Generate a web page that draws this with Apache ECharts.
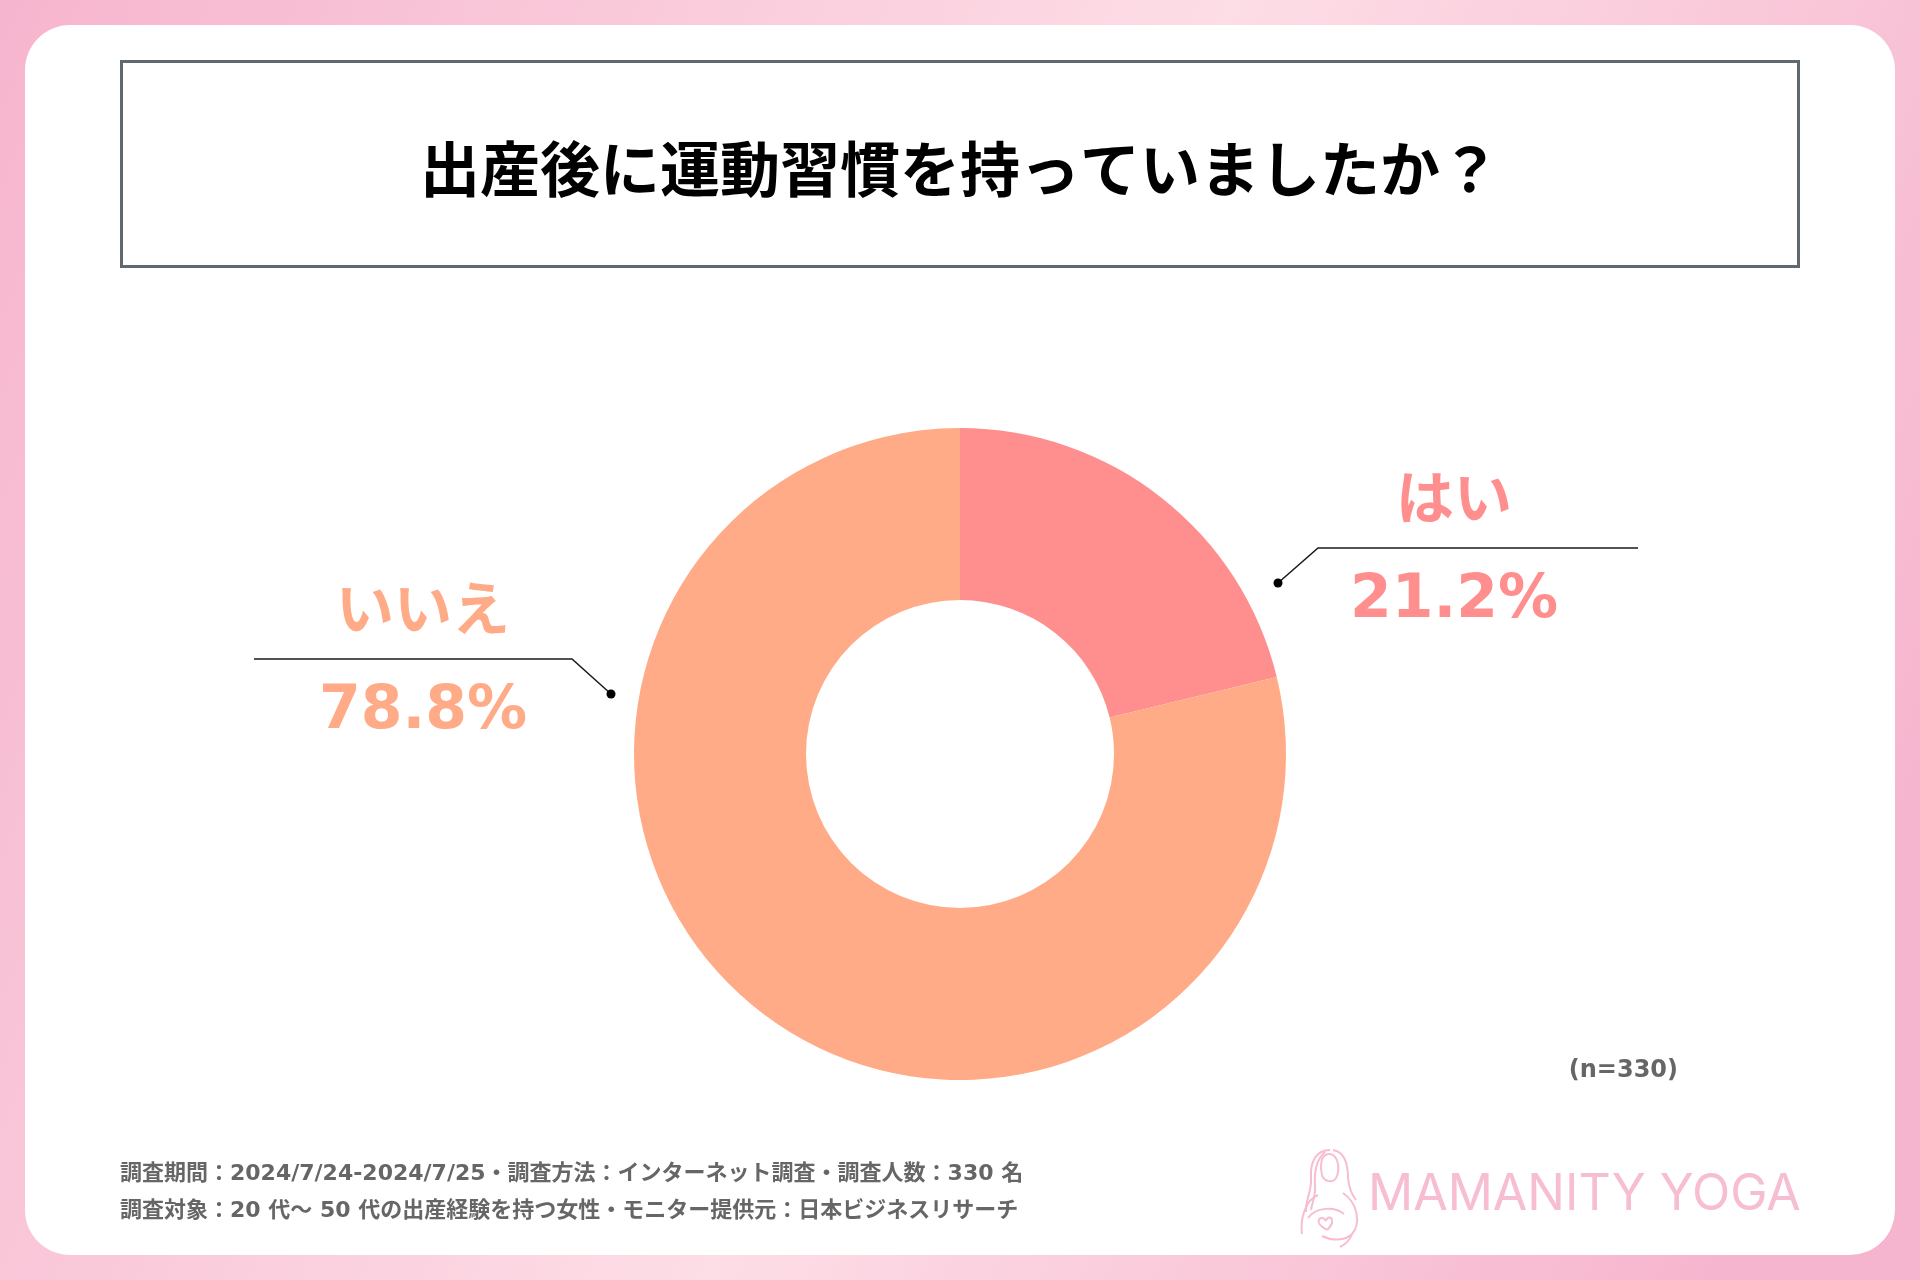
<!DOCTYPE html>
<html>
<head>
<meta charset="utf-8">
<script src="https://cdn.jsdelivr.net/npm/echarts@6/dist/echarts.min.js"></script>
<style>
html,body{margin:0;padding:0;width:1920px;height:1280px;overflow:hidden;}
#chart{width:1920px;height:1280px;}
</style>
</head>
<body>
<div id="chart"></div>
<script>
// ---- data ----
const titleText = '出産後に運動習慣を持っていましたか？';
const categories = ['はい', 'いいえ'];
const values = [21.2, 78.8];
const sampleNote = '(n=330)';
const footerLines = [
  '調査期間：2024/7/24-2024/7/25・調査方法：インターネット調査・調査人数：330 名',
  '調査対象：20 代～ 50 代の出産経験を持つ女性・モニター提供元：日本ビジネスリサーチ'
];
const brandName = 'MAMANITY YOGA';

// ---- styles / layout ----
const sliceColors = ['#FF8F8F', '#FFAB88'];
const CX = 960, CY = 754;
// label anchor offsets relative to pie centre: dot, elbow, line end, text centre x
const labelGeom = [
  { dot: [318, -171], elbow: [358, -206], end: [678, -206], tx: 494 },
  { dot: [-349, -60], elbow: [-388, -95], end: [-706, -95], tx: -537 }
];

const chart = echarts.init(document.getElementById('chart'), null, { renderer: 'canvas' });

const pieData = categories.map((c, i) => ({
  name: c, value: values[i],
  itemStyle: { color: sliceColors[i] },
  label: { rich: { n: { color: sliceColors[i] }, v: { color: sliceColors[i] } } }
}));

const dots = labelGeom.map(g => ({
  type: 'circle', shape: { cx: CX + g.dot[0], cy: CY + g.dot[1], r: 4.5 },
  style: { fill: '#000' }, z: 100
}));

// decorative logo figure (cubic curves: x1,y1, c1x,c1y, c2x,c2y, x2,y2)
const logoCurves = [
  [1330,1150, 1316,1150, 1310,1162, 1311,1178],
  [1311,1178, 1312,1192, 1305,1200, 1306,1212],
  [1333,1150, 1345,1152, 1348,1165, 1348,1178],
  [1348,1178, 1349,1188, 1352,1195, 1356,1200],
  [1325,1152, 1318,1158, 1314,1170, 1315,1185],
  [1315,1185, 1316,1195, 1312,1203, 1311,1210],
  [1329,1154, 1320,1154, 1320,1168, 1322,1175],
  [1322,1175, 1324,1182, 1334,1184, 1337,1176],
  [1337,1176, 1340,1168, 1338,1154, 1329,1154],
  [1318,1195, 1305,1200, 1300,1220, 1302,1234],
  [1343,1193, 1358,1203, 1361,1224, 1352,1234],
  [1352,1234, 1345,1241, 1332,1241, 1322,1236],
  [1308,1218, 1316,1207, 1334,1206, 1344,1214],
  [1326,1221, 1323,1216, 1317,1218, 1319,1223],
  [1319,1223, 1320,1226, 1324,1228, 1327,1230],
  [1327,1230, 1330,1227, 1333,1224, 1332,1220],
  [1332,1220, 1331,1216, 1327,1217, 1326,1221],
  [1352,1234, 1350,1240, 1346,1244, 1340,1247]
];
const logoShapes = logoCurves.map(c => ({
  type: 'bezierCurve',
  shape: { x1: c[0], y1: c[1], cpx1: c[2], cpy1: c[3], cpx2: c[4], cpy2: c[5], x2: c[6], y2: c[7] },
  style: { stroke: '#F7BDD3', lineWidth: 2, fill: null }, z: 50, silent: true
}));

const option = {
  backgroundColor: {
    type: 'linear', x: 0, y: 0, x2: 1, y2: 0.62,
    colorStops: [
      { offset: 0, color: '#F6B5CE' },
      { offset: 0.55, color: '#FDDDE6' },
      { offset: 1, color: '#F6B5CE' }
    ]
  },
  graphic: [
    { type: 'rect', shape: { x: 25, y: 25, width: 1870, height: 1230, r: 45 }, style: { fill: '#FFFFFF' }, z: -10, silent: true },
    { type: 'rect', shape: { x: 121.5, y: 61.5, width: 1677, height: 205 }, style: { fill: null, stroke: '#5F696F', lineWidth: 3 }, z: 1 },
    { type: 'text', x: 960, y: 169, style: { text: titleText, fill: '#000', font: 'bold 60px "Noto Sans CJK JP"', align: 'center', verticalAlign: 'middle' }, z: 2 },
    { type: 'text', x: 1678, y: 1071, style: { text: sampleNote, fill: '#666666', font: 'bold 24px "DejaVu Sans"', align: 'right', verticalAlign: 'middle' }, z: 2 },
    { type: 'text', x: 120, y: 1174, style: { text: footerLines[0], fill: '#666666', font: 'bold 22px "DejaVu Sans", "Noto Sans CJK JP"', align: 'left', verticalAlign: 'middle' }, z: 2 },
    { type: 'text', x: 120, y: 1211, style: { text: footerLines[1], fill: '#666666', font: 'bold 22px "DejaVu Sans", "Noto Sans CJK JP"', align: 'left', verticalAlign: 'middle' }, z: 2 },
    { type: 'text', x: 1368, y: 1195, style: { text: brandName, fill: '#F7BDD3', font: '400 50px Inter', align: 'left', verticalAlign: 'middle' }, z: 2 }
  ].concat(dots, logoShapes),
  series: [{
    type: 'pie',
    center: [CX, CY],
    radius: [154, 326],
    startAngle: 90,
    clockwise: true,
    animation: false,
    silent: true,
    itemStyle: { borderWidth: 0 },
    data: pieData,
    label: {
      show: true,
      position: 'outside',
      formatter: '{n|{b}}\n{v|{c}%}',
      rich: {
        n: { fontSize: 58, fontWeight: 'bold', fontFamily: '"Noto Sans CJK JP"', lineHeight: 104, align: 'center' },
        v: { fontSize: 60, fontWeight: 'bold', fontFamily: '"DejaVu Sans"', lineHeight: 104, align: 'center' }
      }
    },
    labelLine: { show: true, lineStyle: { color: '#1a1a1a', width: 1.5 } },
    labelLayout: function (params) {
      const g = labelGeom[params.dataIndex];
      return {
        x: CX + g.tx,
        y: CY + g.elbow[1] + 1,
        align: 'center',
        verticalAlign: 'middle',
        labelLinePoints: [
          [CX + g.dot[0], CY + g.dot[1]],
          [CX + g.elbow[0], CY + g.elbow[1]],
          [CX + g.end[0], CY + g.end[1]]
        ]
      };
    }
  }]
};
chart.setOption(option);
</script>
</body>
</html>
